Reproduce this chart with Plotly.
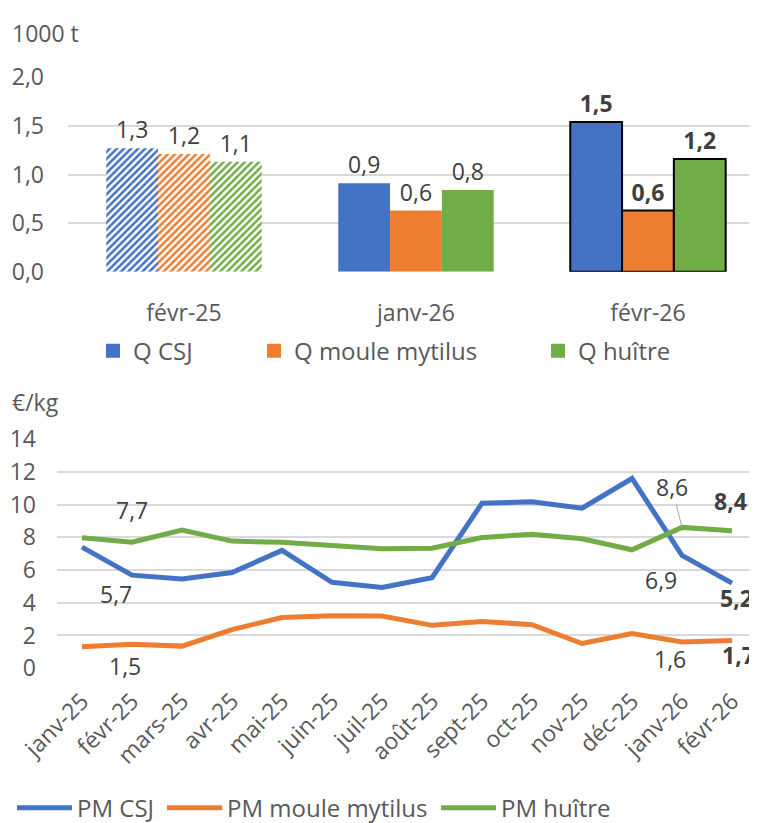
import plotly.graph_objects as go

# ---- data ----
bar_periods = ["févr-25", "janv-26", "févr-26"]
q_csj = [1.27, 0.91, 1.54]
q_moule = [1.21, 0.63, 0.63]
q_huitre = [1.13, 0.84, 1.16]

months = ["janv-25", "févr-25", "mars-25", "avr-25", "mai-25", "juin-25", "juil-25",
          "août-25", "sept-25", "oct-25", "nov-25", "déc-25", "janv-26", "févr-26"]
pm_csj = [7.40, 5.69, 5.45, 5.85, 7.20, 5.25, 4.94, 5.53, 10.09, 10.17, 9.78, 11.60, 6.90, 5.20]
pm_moule = [1.31, 1.47, 1.35, 2.36, 3.10, 3.20, 3.19, 2.62, 2.86, 2.66, 1.51, 2.12, 1.60, 1.70]
pm_huitre = [7.97, 7.70, 8.45, 7.77, 7.70, 7.50, 7.30, 7.34, 7.99, 8.19, 7.91, 7.24, 8.61, 8.41]

BLUE, ORANGE, GREEN = "#4472C4", "#ED7D31", "#70AD47"
FONT = "Open Sans"
FS = 23
TICK = "#595959"
LABEL = "#404040"

# the page body pushes the figure 8px to the right
XOFF = 8
W, H = 757 - XOFF, 823


def fr(v):
    return f"{v:.1f}".replace(".", ",")


def X(px):
    return (px - XOFF) / W


def Y(py):
    return 1 - py / H


fig = go.Figure()

# ---- top: volumes ----
bar_series = [("Q CSJ", q_csj, BLUE, "legend", 93),
              ("Q moule mytilus", q_moule, ORANGE, "legend2", 254),
              ("Q huître", q_huitre, GREEN, "legend3", 538)]
last = len(bar_periods) - 1
for name, vals, col, leg, _ in bar_series:
    texts = [f"<b>{fr(v)}</b>" if i == last else fr(v) for i, v in enumerate(vals)]
    fig.add_trace(go.Bar(
        x=bar_periods, y=vals, name=name, showlegend=False,
        text=texts, textposition="outside", cliponaxis=False,
        textfont=dict(size=FS, color=LABEL, family=FONT),
        marker=dict(
            color=col,
            line=dict(color=["rgba(0,0,0,0)", "rgba(0,0,0,0)", "black"], width=[0, 0, 2]),
            pattern=dict(shape=["/", "", ""], fgcolor=col, bgcolor="white",
                         size=5, solidity=0.5, fillmode="replace"),
        ),
        xaxis="x", yaxis="y",
    ))
    # solid square legend entry
    fig.add_trace(go.Scatter(
        x=[None], y=[None], name=name, legend=leg, mode="markers",
        marker=dict(symbol="square", size=14, color=col),
        xaxis="x", yaxis="y",
    ))

# ---- bottom: prix moyens ----
line_series = [("PM CSJ", pm_csj, BLUE, "legend4", 12),
               ("PM moule mytilus", pm_moule, ORANGE, "legend5", 162),
               ("PM huître", pm_huitre, GREEN, "legend6", 436)]
for name, vals, col, leg, _ in line_series:
    fig.add_trace(go.Scatter(
        x=months, y=vals, name=name, legend=leg, mode="lines",
        line=dict(color=col, width=5),
        xaxis="x2", yaxis="y2",
    ))

# data labels (series, month index, dx, dy, bold)
labels = [
    (pm_huitre, 1, 0, -32, False),
    (pm_csj, 1, -16, 19, False),
    (pm_moule, 1, -7, 22, False),
    (pm_csj, 12, -21, 25, False),
    (pm_moule, 12, -12, 17, False),
    (pm_huitre, 13, -2, -30, True),
    (pm_csj, 13, 4, 15, True),
    (pm_moule, 13, 6, 15, True),
]
for vals, i, dx, dy, bold in labels:
    t = fr(vals[i])
    fig.add_annotation(
        x=months[i], y=vals[i], xref="x2", yref="y2",
        text=f"<b>{t}</b>" if bold else t, showarrow=False,
        xshift=dx, yshift=-dy,
        font=dict(size=FS, color=LABEL, family=FONT),
    )
# 8,6 with leader line
fig.add_annotation(
    x=months[12], y=pm_huitre[12], xref="x2", yref="y2",
    text=fr(pm_huitre[12]), showarrow=True, arrowhead=0, arrowwidth=1,
    arrowcolor="#a6a6a6", ax=-10, ay=-40, standoff=0,
    font=dict(size=FS, color=LABEL, family=FONT),
)

# axis unit titles
for txt, py in [("1000 t", 25), ("€/kg", 398)]:
    fig.add_annotation(text=txt, x=X(10), y=Y(py), xref="paper", yref="paper",
                       xanchor="left", yanchor="middle", showarrow=False,
                       font=dict(size=FS, color=TICK, family=FONT))

grid = dict(showgrid=True, gridcolor="#d9d9d9", gridwidth=1.5, zeroline=False,
            showline=False, ticks="", automargin=False,
            tickfont=dict(size=FS, color=TICK, family=FONT))

legend_common = dict(orientation="h", xanchor="left", yanchor="middle",
                     bgcolor="rgba(0,0,0,0)", font=dict(size=24, color=TICK, family=FONT),
                     itemclick=False)

legends = {}
for _, _, _, leg, lx in bar_series:
    legends[leg] = dict(x=X(lx), y=Y(347), **legend_common)
for _, _, _, leg, lx in line_series:
    legends[leg] = dict(x=X(lx), y=Y(809), itemwidth=55, **legend_common)

fig.update_layout(
    width=W, height=H, autosize=False,
    margin=dict(l=0, r=0, t=0, b=0),
    paper_bgcolor="white", plot_bgcolor="white",
    separators=", ",
    barmode="group", bargap=0.33, bargroupgap=0,
    font=dict(family=FONT, color=TICK),
    xaxis=dict(domain=[X(68), 1], range=[-0.5, 2.47], type="category",
               showgrid=False, zeroline=False, showline=False, ticks="",
               ticklabelstandoff=25, anchor="y", automargin=False,
               tickfont=dict(size=FS, color=TICK, family=FONT)),
    yaxis=dict(domain=[Y(266.7), Y(70)], range=[0, 2.0], dtick=0.5,
               tickformat=".1f", ticklabelstandoff=23, anchor="x", **grid),
    xaxis2=dict(domain=[X(57), 1], range=[-0.5, 13.5], type="category",
                showgrid=False, zeroline=False, showline=False, ticks="",
                tickangle=-45, anchor="y2", automargin=False, ticklabelstandoff=14,
                tickfont=dict(size=FS, color=TICK, family=FONT)),
    yaxis2=dict(domain=[Y(667.5), Y(436)], range=[0, 14], dtick=2,
                ticklabelstandoff=20, anchor="x2", **grid),
    showlegend=True,
    **legends,
)

fig.write_html("out.html")
